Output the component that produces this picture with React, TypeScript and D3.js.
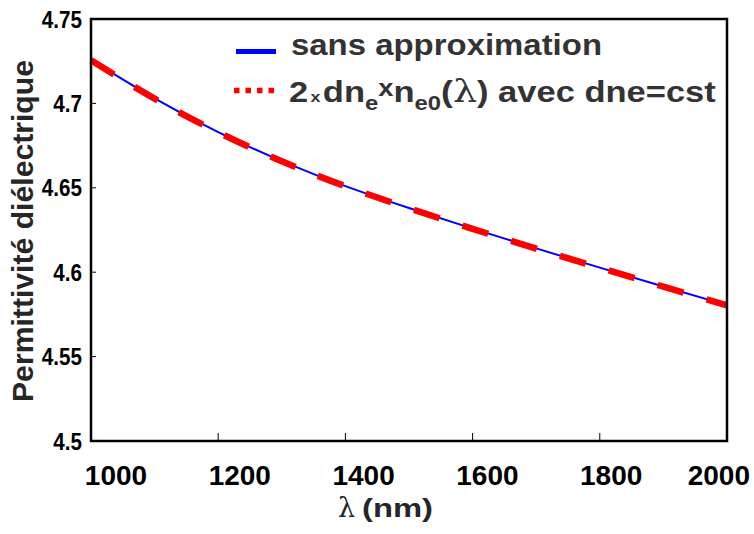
import React from "react";
import * as d3 from "d3";

const wavelengths = [1000, 1100, 1200, 1300, 1400, 1500, 1600, 1700, 1800, 1900, 2000];
const epsExact = [4.7258, 4.7030, 4.6830, 4.6658, 4.6510, 4.6380, 4.6258, 4.6141, 4.6027, 4.5915, 4.5805];
const epsApprox = [4.7256, 4.7028, 4.6829, 4.6657, 4.6509, 4.6379, 4.6257, 4.6140, 4.6026, 4.5914, 4.5804];
const xTicks = [1000, 1200, 1400, 1600, 1800, 2000];
const yTicks = [4.5, 4.55, 4.6, 4.65, 4.7, 4.75];
const yTickLabels = ["4.5", "4.55", "4.6", "4.65", "4.7", "4.75"];
const legendLabels = ["sans approximation", "2×dne×ne0(λ) avec dne=cst"];

const W = 754;
const H = 534;
const M = { left: 91, right: 727, top: 19, bottom: 441 };
const FONT = "'Liberation Sans', Arial, Helvetica, sans-serif";

export default function App() {
  const x = d3.scaleLinear().domain([1000, 2000]).range([M.left, M.right]);
  const y = d3.scaleLinear().domain([4.5, 4.75]).range([M.bottom, M.top]);
  const labelX = d3.scaleLinear().domain([1000, 2000]).range([M.left + 25, M.right + 8]);

  const exact = wavelengths.map((w, i) => [w, epsExact[i]] as [number, number]);
  const approx = wavelengths.map((w, i) => [w, epsApprox[i]] as [number, number]);
  const line = d3
    .line<[number, number]>()
    .x((d) => x(d[0]))
    .y((d) => y(d[1]))
    .curve(d3.curveNatural);

  return (
    <svg
      width={W}
      height={H}
      style={{ position: "absolute", left: 0, top: 0, background: "#fff" }}
    >
      <rect x={0} y={0} width={W} height={H} fill="#fff" />
      {/* curves */}
      <path d={line(exact) || ""} fill="none" stroke="#0000ff" strokeWidth={2} />
      <path
        d={line(approx) || ""}
        fill="none"
        stroke="#ff0000"
        strokeWidth={6.5}
        strokeDasharray="27 24"
      />
      {/* box */}
      <rect
        x={M.left}
        y={M.top}
        width={M.right - M.left}
        height={M.bottom - M.top}
        fill="none"
        stroke="#000"
        strokeWidth={2.5}
      />
      {/* x ticks */}
      {xTicks.map((t, i) => {
        const last = i === xTicks.length - 1;
        return (
          <g key={"xt" + t}>
            <line x1={x(t)} x2={x(t)} y1={M.bottom} y2={M.bottom - 8} stroke="#000" strokeWidth={1} />
            <text
              x={last ? W - 4 : labelX(t)}
              y={485}
              textAnchor={last ? "end" : "middle"}
              fontFamily={FONT}
              fontWeight="bold"
              fontSize={28}
              fill="#000"
            >
              {String(t)}
            </text>
          </g>
        );
      })}
      {/* y ticks */}
      {yTicks.map((t, i) => (
        <g key={"yt" + t}>
          <line x1={M.left} x2={M.left + 5} y1={y(t)} y2={y(t)} stroke="#000" strokeWidth={1} />
          <g transform={`translate(82,${y(t) + 8.5}) scale(0.86,1)`}>
            <text x={0} y={0} textAnchor="end" fontFamily={FONT} fontWeight="bold" fontSize={24} fill="#000">
              {yTickLabels[i]}
            </text>
          </g>
        </g>
      ))}
      {/* y axis label */}
      <text
        transform={`translate(33,231) rotate(-90)`}
        textAnchor="middle"
        fontFamily={FONT}
        fontWeight="bold"
        fontSize={30}
        fill="#262626"
        textLength={342}
        lengthAdjust="spacingAndGlyphs"
      >
        Permittivité diélectrique
      </text>
      {/* x axis label */}
      <text x={338} y={517} fontFamily="'DejaVu Serif', serif" fontSize={27} fill="#262626">
        λ
      </text>
      <text
        x={362}
        y={517}
        fontFamily={FONT}
        fontWeight="bold"
        fontSize={26}
        fill="#262626"
        textLength={71}
        lengthAdjust="spacingAndGlyphs"
      >
        (nm)
      </text>
      {/* legend */}
      <line x1={236} x2={276} y1={51.5} y2={51.5} stroke="#0000ff" strokeWidth={5} />
      <line x1={234} x2={275} y1={90.5} y2={90.5} stroke="#ff0000" strokeWidth={5.5} strokeDasharray="5.5 6" />
      <text
        x={291}
        y={55}
        fontFamily={FONT}
        fontWeight="bold"
        fontSize={29}
        fill="#333"
        textLength={311}
        lengthAdjust="spacingAndGlyphs"
      >
        {legendLabels[0]}
      </text>
      <g transform="translate(289,0) scale(1.19,1) translate(-289,0)">
        <text x={289} y={102} fontFamily={FONT} fontWeight="bold" fontSize={29} fill="#333" aria-label={legendLabels[1]}>
          <tspan>2</tspan>
          <tspan fontSize={15} dx={2}>x</tspan>
          <tspan dx={2}>dn</tspan>
          <tspan fontSize={20} dy={8}>e</tspan>
          <tspan fontSize={23} dy={-14}>x</tspan>
          <tspan dy={6}>n</tspan>
          <tspan fontSize={20} dy={8}>e0</tspan>
          <tspan fontSize={30} dy={-8}>(</tspan>
          <tspan fontFamily="'DejaVu Serif', serif" fontWeight="normal" fontSize={32}>λ</tspan>
          <tspan fontSize={29}>) avec dne=cst</tspan>
        </text>
      </g>
    </svg>
  );
}
